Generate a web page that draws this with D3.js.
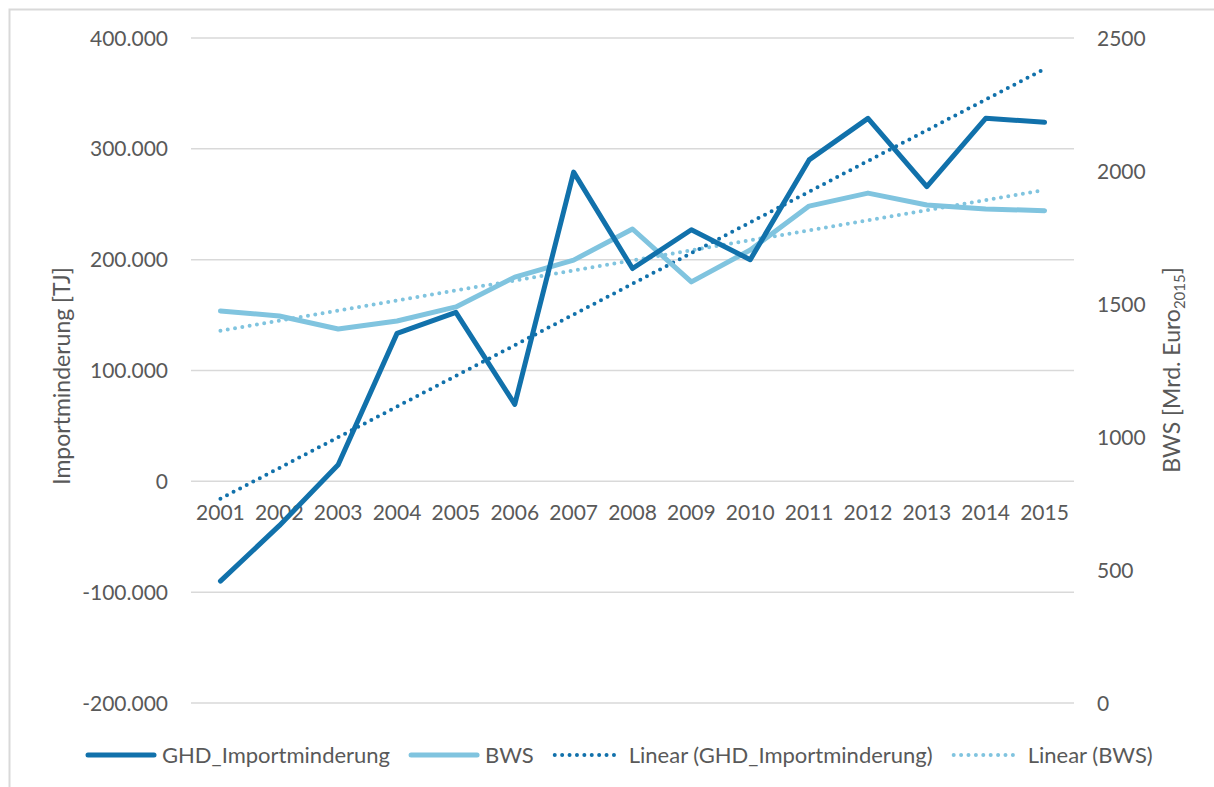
<!DOCTYPE html>
<html>
<head>
<meta charset="utf-8">
<script src="https://cdn.jsdelivr.net/npm/d3@7/dist/d3.min.js"></script>
<style>
  body { margin: 0; background: #fff; }
  svg { display: block; font-family: Lato, "Open Sans", sans-serif; }
</style>
</head>
<body>
<div id="chart"></div>
<script>
// data
var years = ["2001", "2002", "2003", "2004", "2005", "2006", "2007", "2008",
             "2009", "2010", "2011", "2012", "2013", "2014", "2015"];
var ghd = [-90000, -40000, 15000, 133500, 152500, 69500, 279000, 192000,
           227000, 200000, 290000, 327500, 266000, 327500, 324000];
var bws = [1474, 1455, 1406, 1436, 1489, 1601, 1665, 1782,
           1583, 1703, 1868, 1917, 1872, 1857, 1851];
var leftTicks = [-200000, -100000, 0, 100000, 200000, 300000, 400000];
var rightTicks = [0, 500, 1000, 1500, 2000, 2500];
var legendNames = ["GHD_Importminderung", "BWS", "Linear (GHD_Importminderung)", "Linear (BWS)"];

var dark = "#1171ab", light = "#80c4df", textCol = "#595959", gridCol = "#d9d9d9";

var width = 1214, height = 787;
var plot = { left: 191, right: 1074, top: 38, bottom: 703 };

var svg = d3.select("#chart").append("svg")
  .attr("width", width).attr("height", height);

// outer border
svg.append("rect")
  .attr("x", 9.5).attr("y", 9.5)
  .attr("width", width).attr("height", height)
  .attr("fill", "none").attr("stroke", gridCol).attr("stroke-width", 2);

var x = d3.scaleBand().domain(years).range([plot.left, plot.right]);
var yL = d3.scaleLinear().domain([-200000, 400000]).range([plot.bottom, plot.top]);
var yR = d3.scaleLinear().domain([0, 2500]).range([plot.bottom, plot.top]);
var cx = function (d) { return x(d) + x.bandwidth() / 2; };

// german thousands separator, plain hyphen for negatives
var fmt = function (v) {
  if (v === 0) return "0";
  return d3.format(",.0f")(v).replace(/,/g, ".").replace("\u2212", "-");
};

// gridlines
svg.append("g").selectAll("line")
  .data(leftTicks).enter().append("line")
  .attr("x1", plot.left).attr("x2", plot.right)
  .attr("y1", function (d) { return yL(d); })
  .attr("y2", function (d) { return yL(d); })
  .attr("stroke", gridCol).attr("stroke-width", 1.5);

// left axis labels
svg.append("g").selectAll("text")
  .data(leftTicks).enter().append("text")
  .attr("x", 168).attr("y", function (d) { return yL(d); })
  .attr("dy", "0.36em").attr("text-anchor", "end")
  .attr("font-size", 21).attr("fill", textCol)
  .text(function (d) { return fmt(d); });

// right axis labels
svg.append("g").selectAll("text")
  .data(rightTicks).enter().append("text")
  .attr("x", 1097).attr("y", function (d) { return yR(d); })
  .attr("dy", "0.36em").attr("text-anchor", "start")
  .attr("font-size", 21).attr("fill", textCol)
  .text(function (d) { return d; });

// category labels
svg.append("g").selectAll("text")
  .data(years).enter().append("text")
  .attr("x", cx).attr("y", 520)
  .attr("text-anchor", "middle")
  .attr("font-size", 21).attr("fill", textCol)
  .text(function (d) { return d; });

// axis titles
svg.append("text")
  .attr("transform", "translate(70,376) rotate(-90)")
  .attr("text-anchor", "middle").attr("font-size", 23).attr("fill", textCol)
  .text("Importminderung [TJ]");

var rt = svg.append("text")
  .attr("transform", "translate(1180,370) rotate(-90)")
  .attr("text-anchor", "middle").attr("font-size", 23).attr("fill", textCol);
rt.append("tspan").text("BWS [Mrd. Euro");
rt.append("tspan").attr("font-size", 15).attr("dy", 5).text("2015");
rt.append("tspan").attr("dy", -5).text("]");

// linear trend from least squares, like the spreadsheet trendline
function trend(vals) {
  var n = vals.length, mx = (n + 1) / 2, my = d3.mean(vals);
  var sxy = 0, sxx = 0;
  vals.forEach(function (v, i) { sxy += (i + 1 - mx) * (v - my); sxx += (i + 1 - mx) * (i + 1 - mx); });
  var b = sxy / sxx, a = my - b * mx;
  return vals.map(function (v, i) { return a + b * (i + 1); });
}

function drawLine(vals, yScale, color, dotted) {
  var line = d3.line()
    .x(function (d, i) { return cx(years[i]); })
    .y(function (d) { return yScale(d); });
  var p = svg.append("path").datum(vals)
    .attr("fill", "none").attr("stroke", color)
    .attr("d", line);
  if (dotted) {
    p.attr("stroke-width", 4).attr("stroke-linecap", "round").attr("stroke-dasharray", "0,7.4");
  } else {
    p.attr("stroke-width", 5).attr("stroke-linejoin", "round").attr("stroke-linecap", "round");
  }
}

drawLine(trend(bws), yR, light, true);
drawLine(trend(ghd), yL, dark, true);
drawLine(bws, yR, light, false);
drawLine(ghd, yL, dark, false);

// legend
var legendStyles = [
  { color: dark, dotted: false },
  { color: light, dotted: false },
  { color: dark, dotted: true },
  { color: light, dotted: true }
];
var lg = svg.append("g");
var lx = 86, ly = 755;
legendNames.forEach(function (name, i) {
  var st = legendStyles[i];
  var l = lg.append("line")
    .attr("x1", lx + 2).attr("x2", lx + 68).attr("y1", ly).attr("y2", ly)
    .attr("stroke", st.color).attr("stroke-linecap", "round");
  if (st.dotted) l.attr("stroke-width", 4).attr("stroke-dasharray", "0,7.4");
  else l.attr("stroke-width", 5);
  var t = lg.append("text")
    .attr("x", lx + 76).attr("y", ly).attr("dy", "0.36em")
    .attr("font-size", 22).attr("fill", textCol).text(name);
  lx = lx + 76 + t.node().getComputedTextLength() + 19;
});
</script>
</body>
</html>
